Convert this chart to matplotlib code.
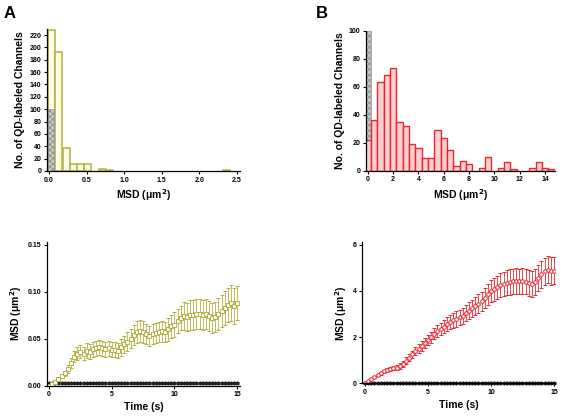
import numpy as np
import matplotlib
matplotlib.use('Agg')
import matplotlib.pyplot as plt

plt.rcParams['font.family'] = ['Liberation Sans', 'DejaVu Sans']
plt.rcParams['font.weight'] = 'bold'
plt.rcParams['hatch.color'] = '#555555'
plt.rcParams['hatch.linewidth'] = 0.5

# histogram A (yellow): bin centres and counts
hist_a_x = [0.035, 0.131, 0.227, 0.323, 0.419, 0.515, 0.707, 0.803, 2.36]
hist_a_n = [228, 193, 37, 11, 11, 11, 3, 2, 1]
ctrl_a_x = [0.027]
ctrl_a_n = [100]

# histogram B (red)
hist_b_x = [0.0, 0.5, 1.0, 1.5, 2.0, 2.5, 3.0, 3.5, 4.0, 4.5, 5.0, 5.5, 6.0, 6.5,
            7.0, 7.5, 8.0, 9.0, 9.5, 10.5, 11.0, 11.5, 13.0, 13.5, 14.0, 14.5]
hist_b_n = [22, 36, 63, 68, 73, 35, 32, 19, 16, 9, 9, 29, 23, 15,
            3, 7, 5, 2, 10, 2, 6, 1, 2, 6, 2, 1]
ctrl_b_x = [0.0]
ctrl_b_n = [100]

# MSD vs time
time_s = np.arange(0, 15.001, 0.25)
msd_a = [0.000, 0.002, 0.004, 0.007, 0.010, 0.013, 0.018, 0.024, 0.031, 0.034,
         0.036, 0.034, 0.037, 0.036, 0.039, 0.040, 0.041, 0.040, 0.039, 0.040,
         0.038, 0.038, 0.037, 0.041, 0.044, 0.047, 0.050, 0.054, 0.057, 0.058,
         0.057, 0.055, 0.053, 0.055, 0.056, 0.057, 0.058, 0.057, 0.060, 0.063,
         0.065, 0.069, 0.072, 0.074, 0.073, 0.075, 0.075, 0.076, 0.076, 0.075,
         0.076, 0.074, 0.072, 0.073, 0.076, 0.079, 0.083, 0.086, 0.088, 0.085,
         0.088]
err_a = [0.000, 0.001, 0.001, 0.002, 0.002, 0.003, 0.004, 0.005, 0.006, 0.007,
         0.007, 0.007, 0.008, 0.008, 0.008, 0.008, 0.008, 0.008, 0.008, 0.008,
         0.008, 0.008, 0.008, 0.009, 0.009, 0.010, 0.010, 0.011, 0.012, 0.012,
         0.012, 0.011, 0.011, 0.011, 0.011, 0.011, 0.011, 0.011, 0.012, 0.012,
         0.013, 0.013, 0.013, 0.015, 0.015, 0.016, 0.016, 0.016, 0.016, 0.016,
         0.016, 0.016, 0.016, 0.016, 0.017, 0.017, 0.018, 0.018, 0.019, 0.019,
         0.018]
msd_b = [0.00, 0.08, 0.18, 0.28, 0.37, 0.44, 0.52, 0.58, 0.63, 0.66,
         0.68, 0.75, 0.85, 0.98, 1.10, 1.25, 1.40, 1.50, 1.62, 1.75,
         1.88, 2.00, 2.15, 2.25, 2.35, 2.45, 2.58, 2.65, 2.72, 2.78,
         2.85, 2.92, 3.05, 3.15, 3.25, 3.35, 3.45, 3.55, 3.68, 3.85,
         4.00, 4.08, 4.15, 4.25, 4.30, 4.35, 4.38, 4.42, 4.43, 4.42,
         4.43, 4.40, 4.35, 4.30, 4.38, 4.55, 4.72, 4.85, 4.92, 4.85,
         4.88]
err_b = [0.00, 0.02, 0.03, 0.04, 0.05, 0.06, 0.07, 0.08, 0.09, 0.10,
         0.11, 0.12, 0.13, 0.14, 0.15, 0.17, 0.18, 0.19, 0.20, 0.21,
         0.22, 0.24, 0.25, 0.26, 0.27, 0.28, 0.30, 0.31, 0.32, 0.33,
         0.33, 0.34, 0.35, 0.36, 0.37, 0.38, 0.40, 0.42, 0.44, 0.46,
         0.48, 0.50, 0.51, 0.52, 0.53, 0.54, 0.55, 0.55, 0.55, 0.55,
         0.55, 0.55, 0.55, 0.55, 0.56, 0.57, 0.58, 0.59, 0.59, 0.60,
         0.60]
ctrl_msd_a = [0.003] * 61
ctrl_err_a = [0.001] * 61
ctrl_msd_b = [0.02] * 61
ctrl_err_b = [0.04] * 61

yellow = '#b3b040'
red = '#e8262e'
tick_fs = 5
label_fs = 7.5

fig = plt.figure(figsize=(5.62, 4.18), dpi=100)


def style(ax):
    for s in ['top', 'right']:
        ax.spines[s].set_visible(False)
    for s in ['left', 'bottom']:
        ax.spines[s].set_linewidth(0.9)
    ax.tick_params(direction='out', length=2.5, width=0.8, labelsize=tick_fs, pad=1.5)
    for lab in ax.get_xticklabels() + ax.get_yticklabels():
        lab.set_fontweight('bold')


# A histogram
ax1 = fig.add_axes([0.0836, 0.591, 0.343, 0.340])
ax1.bar(hist_a_x, hist_a_n, width=0.094, color='#fdfde6', edgecolor=yellow, linewidth=1.1)
ax1.bar(ctrl_a_x, ctrl_a_n, width=0.08, color='#c8c8c8', edgecolor='#888888',
        hatch='xxxxxx', linewidth=0.4)
ax1.set_xlim(-0.027, 2.54)
ax1.set_ylim(0, 230)
ax1.set_yticks(np.arange(0, 221, 20))
ax1.set_xticks([0, 0.5, 1.0, 1.5, 2.0, 2.5])
ax1.set_xticklabels(['0.0', '0.5', '1.0', '1.5', '2.0', '2.5'])
style(ax1)
ax1.set_xlabel('MSD (μm$^\\mathbf{2}$)', fontsize=label_fs, fontweight='bold', labelpad=3)
ax1.set_ylabel('No. of QD-labeled Channels', fontsize=label_fs, fontweight='bold', labelpad=3)

# B histogram
ax2 = fig.add_axes([0.651, 0.592, 0.336, 0.335])
ax2.bar(ctrl_b_x, ctrl_b_n, width=0.5, color='#c8c8c8', edgecolor='#888888',
        hatch='xxxxxx', linewidth=0.4)
ax2.bar(hist_b_x, hist_b_n, width=0.5, color='#f9cfd0', edgecolor=red, linewidth=1.0)
ax2.set_xlim(-0.15, 14.75)
ax2.set_ylim(0, 100)
ax2.set_yticks([0, 20, 40, 60, 80, 100])
ax2.set_xticks([0, 2, 4, 6, 8, 10, 12, 14])
style(ax2)
ax2.set_xlabel('MSD (μm$^\\mathbf{2}$)', fontsize=label_fs, fontweight='bold', labelpad=3)
ax2.set_ylabel('No. of QD-labeled Channels', fontsize=label_fs, fontweight='bold', labelpad=3)

# A MSD vs time
ax3 = fig.add_axes([0.0836, 0.0773, 0.343, 0.344])
ax3.errorbar(time_s, ctrl_msd_a, yerr=ctrl_err_a, fmt='D', ms=1.6, color='#222222',
             mfc='#222222', elinewidth=0.6, capsize=1.2, capthick=0.6, clip_on=False)
ax3.errorbar(time_s, msd_a, yerr=err_a, fmt='s', ms=2.6, color=yellow, mfc='white',
             mec=yellow, mew=0.7, elinewidth=0.6, capsize=1.5, capthick=0.6)
ax3.set_xlim(-0.16, 15.2)
ax3.set_ylim(0, 0.153)
ax3.set_yticks([0.00, 0.05, 0.10, 0.15])
ax3.set_yticklabels(['0.00', '0.05', '0.10', '0.15'])
ax3.set_xticks([0, 5, 10, 15])
style(ax3)
ax3.set_xlabel('Time (s)', fontsize=label_fs, fontweight='bold', labelpad=3)
ax3.set_ylabel('MSD (μm$^\\mathbf{2}$)', fontsize=label_fs, fontweight='bold', labelpad=3)

# B MSD vs time
ax4 = fig.add_axes([0.645, 0.083, 0.343, 0.337])
ax4.errorbar(time_s, ctrl_msd_b, yerr=ctrl_err_b, fmt='D', ms=1.6, color='#222222',
             mfc='#222222', elinewidth=0.6, capsize=1.2, capthick=0.6, clip_on=False)
ax4.errorbar(time_s, msd_b, yerr=err_b, fmt='o', ms=2.6, color=red, mfc='white',
             mec=red, mew=0.7, elinewidth=0.6, capsize=1.5, capthick=0.6)
ax4.set_xlim(-0.2, 15.1)
ax4.set_ylim(0, 6.1)
ax4.set_yticks([0, 2, 4, 6])
ax4.set_xticks([0, 5, 10, 15])
style(ax4)
ax4.set_xlabel('Time (s)', fontsize=label_fs, fontweight='bold', labelpad=3)
ax4.set_ylabel('MSD (μm$^\\mathbf{2}$)', fontsize=label_fs, fontweight='bold', labelpad=3)

fig.text(0.006, 0.985, 'A', fontsize=12, fontweight='bold', va='top', ha='left')
fig.text(0.562, 0.985, 'B', fontsize=12, fontweight='bold', va='top', ha='left')

fig.savefig('out.png', dpi=100)
